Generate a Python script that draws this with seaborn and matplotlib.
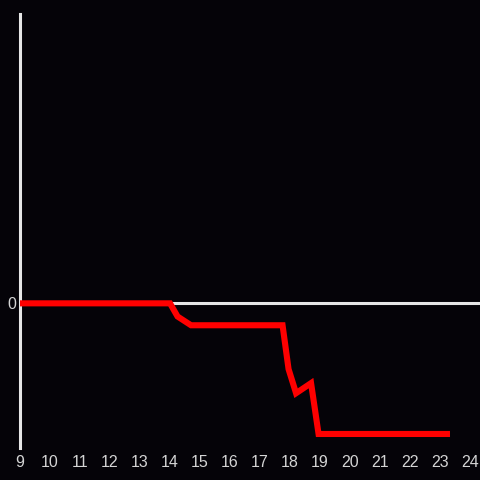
import matplotlib
matplotlib.use("Agg")
import matplotlib.pyplot as plt
import seaborn as sns
import pandas as pd

# Data: hour of day vs. value
hours = [9.0, 14.0, 14.25, 14.7, 17.75, 17.95, 18.2, 18.7, 18.95, 23.33]
values = [0.0, 0.0, -0.3, -0.5, -0.5, -1.5, -2.05, -1.82, -2.98, -2.98]
xticks = list(range(9, 25))

df = pd.DataFrame({"hour": hours, "value": values})

bg = "#050308"
sns.set_style("dark", {"axes.facecolor": bg, "figure.facecolor": bg})
plt.rcParams["font.family"] = ["Liberation Sans", "DejaVu Sans"]

fig = plt.figure(figsize=(4.8, 4.8), dpi=100, facecolor=bg)
ax = fig.add_axes([20 / 480, 32 / 480, 460 / 480, 434 / 480])
ax.set_facecolor(bg)

ax.axhline(0, color="#e6e6e6", lw=2.2, zorder=1)
sns.lineplot(data=df, x="hour", y="value", color="#ff0000", lw=4.4,
             solid_capstyle="butt", solid_joinstyle="miter",
             ax=ax, zorder=3)

ax.set_xlim(9, 24.33)
ax.set_ylim(-3.3, 6.6)
ax.set_xticks(xticks)
ax.set_xticklabels([str(t) for t in xticks])
ax.set_yticks([0])
ax.set_yticklabels(["0"])
ax.tick_params(colors="#d4d4d4", labelsize=11.5, length=0, pad=5)
ax.tick_params(axis="y", pad=3)
ax.set_xlabel("")
ax.set_ylabel("")
ax.grid(False)

for s in ["top", "right", "bottom"]:
    ax.spines[s].set_visible(False)
ax.spines["left"].set_color("#e6e6e6")
ax.spines["left"].set_linewidth(2.2)

fig.savefig("out.png", dpi=100, facecolor=bg)
plt.close(fig)
